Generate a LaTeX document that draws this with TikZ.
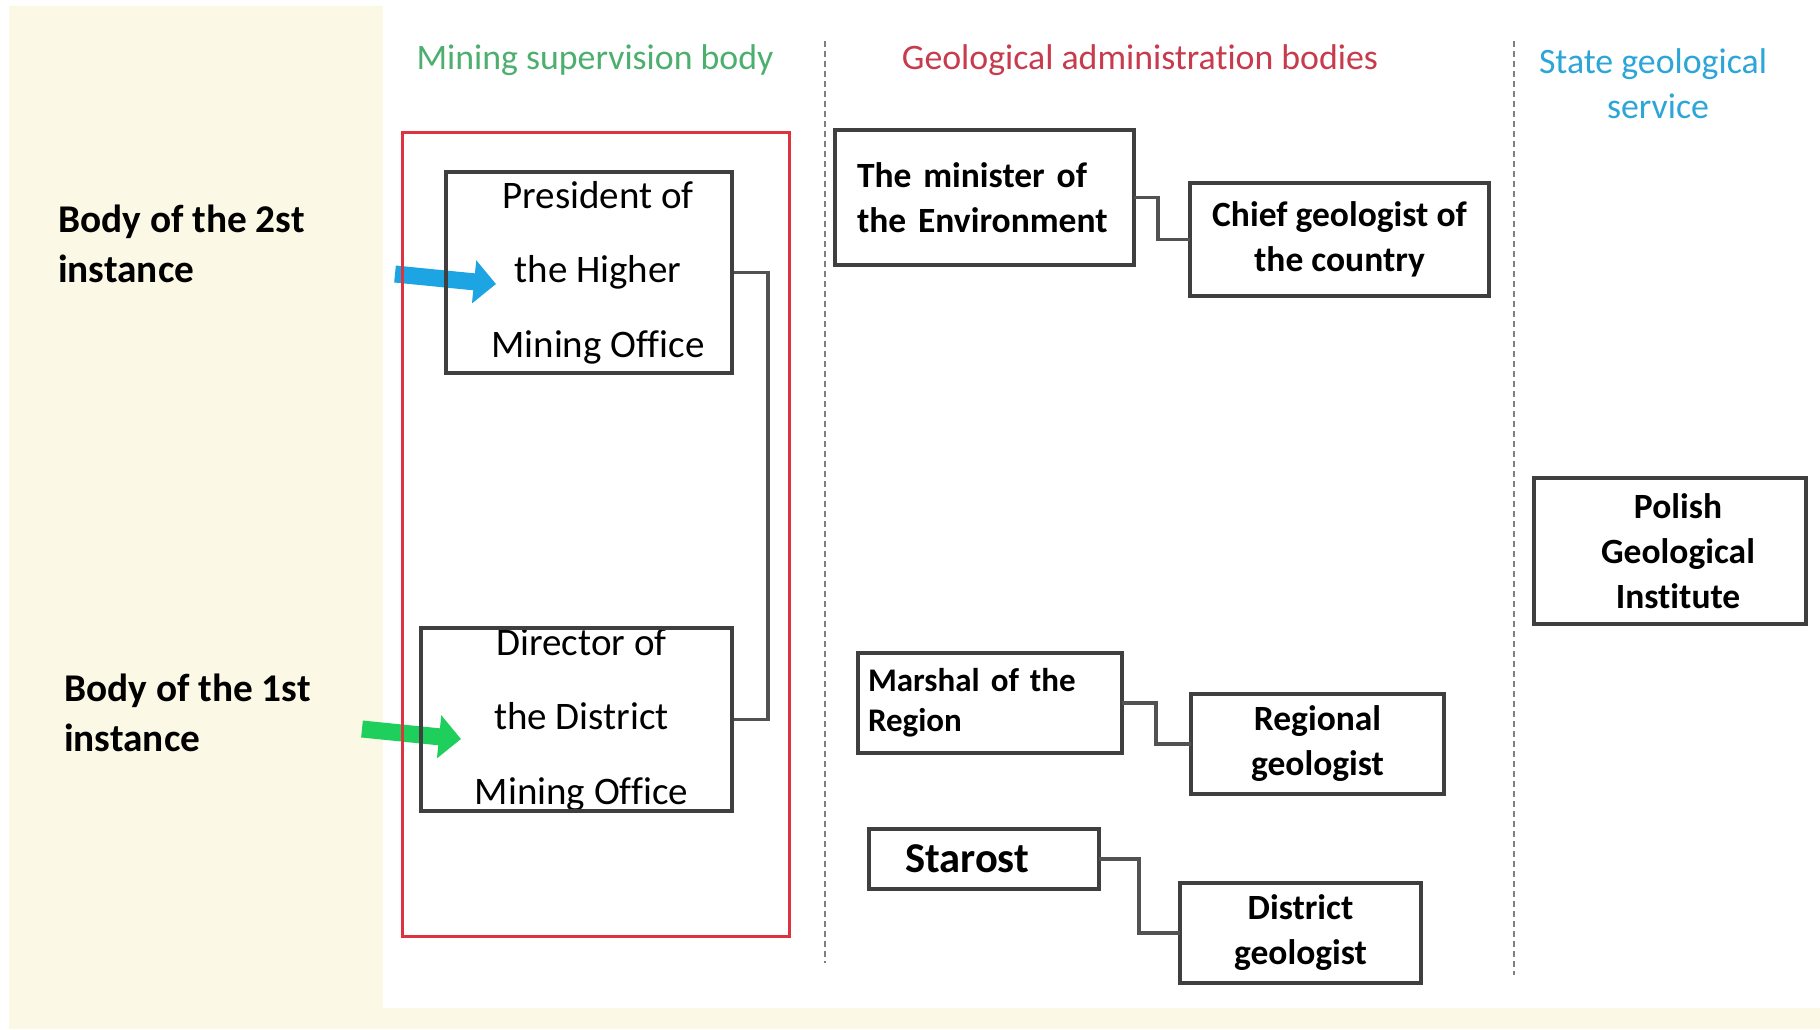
\documentclass[tikz,border=0pt]{standalone}
\usepackage{fontspec}
\setmainfont{Carlito}[Ligatures=NoCommon]
\usetikzlibrary{arrows.meta,calc}
\definecolor{cream}{HTML}{FCF8E6}
\definecolor{boxline}{HTML}{3F3F3F}
\definecolor{hgreen}{HTML}{4DAF6E}
\definecolor{hred}{HTML}{C73B4C}
\definecolor{hblue}{HTML}{2CA5D8}
\definecolor{redframe}{HTML}{DD3341}
\definecolor{arrblue}{HTML}{1DA4E2}
\definecolor{arrgreen}{HTML}{1ECF5C}
\tikzset{
  orgbox/.style={draw=boxline, line width=3.5pt, fill=white, inner sep=0pt, outer sep=0pt, align=center},
  regbox/.style={orgbox, font=\fontsize{39}{74.5}\selectfont},
  boldbox/.style={orgbox, font=\fontsize{35.5}{45}\selectfont\bfseries},
  link/.style={draw=boxline!90, line width=3.2pt},
  heading/.style={font=\fontsize{35.8}{45}\selectfont, inner sep=0pt},
  sidelabel/.style={font=\fontsize{39.3}{50}\selectfont\bfseries, align=left, anchor=west, inner sep=0pt},
  fatarrow/.style={line width=17pt, -{Triangle[length=22pt, width=42pt]}},
  frameline/.style={draw=redframe, line width=3pt},
  borderline/.style={draw=boxline, line width=3.5pt}
}
\begin{document}
\begin{tikzpicture}[x=1pt, y=-1pt]
\useasboundingbox (0,0) rectangle (1820,1029);
% backgrounds
\fill[white] (0,0) rectangle (1820,1029);
\fill[cream] (9,6) rectangle (1820,1029);
\fill[white] (383,0) rectangle (1820,1008);

% headings
\node[heading, text=hgreen] (h1) at (595,60) {Mining supervision body};
\node[heading, text=hred] (h2) at (1140,60) {Geological administration bodies};
\node[heading, text=hblue, align=center] (h3) at (1653,84) {State geological\\\hspace*{10pt}service};

% dashed separators
\coordinate (d1a) at (825,41); \coordinate (d1b) at (825,963);
\coordinate (d2a) at (1514,41); \coordinate (d2b) at (1514,975);
\draw[gray, line width=2pt, dash pattern=on 6pt off 4pt] (d1a) -- (d1b);
\draw[gray, line width=2pt, dash pattern=on 6pt off 4pt] (d2a) -- (d2b);

% red frame (area only; outline drawn later over the arrows)
\node[minimum width=387pt, minimum height=804pt, inner sep=0pt, outer sep=0pt] (frame) at (595.5,534) {};

% left labels
\node[sidelabel] (l2) at (58,244) {Body of the 2st\\instance};
\node[sidelabel] (l1) at (64,713) {Body of the 1st\\instance};

% mining boxes
\node[regbox, minimum width=286pt, minimum height=201pt] (pres) at (589,272.5) {\hspace*{18pt}President of\\\hspace*{18pt}the Higher\\\hspace*{18pt}Mining Office};
\node[regbox, minimum width=311pt, minimum height=183pt] (dir) at (576.5,719.5) {\hspace*{10pt}Director of\\\hspace*{10pt}the District\\\hspace*{10pt}Mining Office};
\draw[link] (pres.east) -- ++(36,0) |- (dir.east);

% arrows (drawn under the box borders and frame)
\coordinate (ba) at (395,274); \coordinate (bb) at (496,284);
\coordinate (ga) at (362,729); \coordinate (gb) at (461,739);
\draw[fatarrow, arrblue] (ba) -- (bb);
\draw[fatarrow, arrgreen] (ga) -- (gb);
\draw[frameline] (frame.south west) rectangle (frame.north east);
\draw[borderline] (pres.south west) rectangle (pres.north east);
\draw[borderline] (dir.south west) rectangle (dir.north east);

% geological administration
\node[boldbox, align=left, text width=255pt, inner xsep=22pt, minimum height=135pt] (min) at (984.5,197.5) {The minister of\\the Environment};
\node[boldbox, minimum width=299pt, minimum height=113pt] (chief) at (1339.5,239.5) {Chief geologist of\\the country};
\draw[link] (min.east) -- ++(24,0) |- (chief.west);

\node[boldbox, align=left, text width=244pt, inner xsep=10pt, minimum height=100pt, font=\fontsize{33}{40}\selectfont\bfseries] (mar) at (990,703) {Marshal of the\\Region};
\node[boldbox, minimum width=253pt, minimum height=100pt] (reg) at (1317.5,744) {Regional\\geologist};
\draw[link] (mar.east) -- ++(34,0) |- (reg.west);

\node[boldbox, align=left, text width=158pt, inner xsep=36pt, minimum height=60pt, font=\fontsize{42.5}{45}\selectfont\bfseries] (sta) at (984,859) {Starost};
\node[boldbox, minimum width=241pt, minimum height=100pt] (dis) at (1300.5,933) {District\\geologist};
\draw[link] (sta.east) -- ++(40,0) |- (dis.west);

% state geological service
\node[boldbox, minimum width=272pt, minimum height=146pt] (pgi) at (1670,551) {\hspace*{16pt}Polish\\\hspace*{16pt}Geological\\\hspace*{16pt}Institute};
\end{tikzpicture}
\end{document}
